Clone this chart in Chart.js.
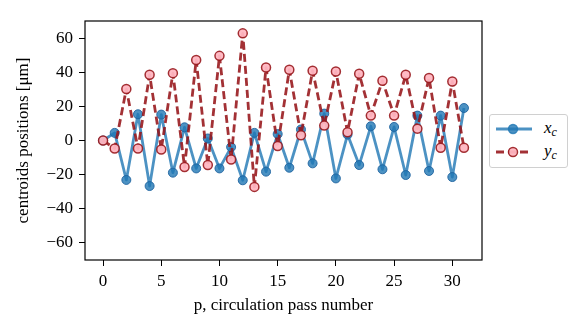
<!DOCTYPE html>
<html>
<head>
<meta charset="utf-8">
<script src="https://cdn.jsdelivr.net/npm/chart.js@4"></script>
<style>
  body { margin: 0; background: #fff; }
  #wrap { position: relative; width: 582px; height: 328px; }
  #legend {
    position: absolute; left: 489px; top: 114px; width: 77px; height: 52px;
    border: 1px solid #d0d0d0; border-radius: 3px; background: #fff;
    font-family: "Liberation Serif", serif; font-size: 17px;
  }
  .row { position: absolute; left: 0; width: 77px; height: 20px; }
  .row canvas { position: absolute; left: 5px; top: 0; }
  .row span { position: absolute; left: 54px; top: -1px; font-style: italic; line-height: 20px; }
  .row sub { font-size: 12px; font-style: italic; vertical-align: -3px; }
</style>
</head>
<body>
<div id="wrap">
  <canvas id="chart" width="582" height="328"></canvas>
  <div id="legend">
    <div class="row" style="top:4px"><canvas id="lx" width="40" height="20"></canvas><span>x<sub>c</sub></span></div>
    <div class="row" style="top:27px"><canvas id="ly" width="40" height="20"></canvas><span>y<sub>c</sub></span></div>
  </div>
</div>
<script>
// data
const passes = [0,1,2,3,4,5,6,7,8,9,10,11,12,13,14,15,16,17,18,19,20,21,22,23,24,25,26,27,28,29,30,31];
const xc = [0,4.5,-23.3,15.5,-26.9,15.3,-19,7.8,-16.5,1.2,-16.5,-3.9,-23.5,4.5,-18.4,3.8,
            -16.1,6.5,-13.5,15.9,-22.4,3.5,-14.5,8.4,-17,8,-20.4,14.7,-18,14.7,-21.6,19.2];
const yc = [0,-4.7,30.4,-4.7,38.8,-5.3,39.8,-15.7,47.6,-14.5,50,-11.2,63.3,-27.4,43.1,-3.3,
            41.8,3.1,41.2,8.8,40.8,4.9,39.4,14.7,35.3,14.7,38.8,7,36.9,-4.3,34.9,-4.3];
const xTicks = [0,5,10,15,20,25,30];
const yTicks = [-60,-40,-20,0,20,40,60];

const FONT = "Liberation Serif";
const blue = "rgba(31,119,180,0.8)";
const blueEdge = "rgba(31,100,160,0.9)";
const red = "rgba(150,20,25,0.88)";
const pink = "rgba(255,182,193,0.95)";

function pts(arr) {
  return arr.map((v, i) => ({ x: passes[i], y: v }));
}

function minus(v) {
  return String(v).replace("-", "\u2212");
}

// black frame round the plot area
const frame = {
  id: "frame",
  afterDraw(chart) {
    const a = chart.chartArea, c = chart.ctx;
    c.save();
    c.strokeStyle = "#000";
    c.lineWidth = 1.2;
    c.strokeRect(a.left, a.top, a.right - a.left, a.bottom - a.top);
    c.restore();
  }
};

new Chart(document.getElementById("chart"), {
  type: "line",
  data: {
    datasets: [
      {
        label: "x_c", data: pts(xc), order: 1,
        borderColor: blue, borderWidth: 2.8, borderJoinStyle: "round",
        pointRadius: 4.5, pointBackgroundColor: blue, pointBorderColor: blueEdge, pointBorderWidth: 1,
        tension: 0
      },
      {
        label: "y_c", data: pts(yc), order: 0,
        borderColor: red, borderWidth: 2.8, borderDash: [8, 4], borderJoinStyle: "round",
        pointRadius: 4.5, pointBackgroundColor: pink, pointBorderColor: red, pointBorderWidth: 1.5,
        tension: 0
      }
    ]
  },
  options: {
    responsive: false,
    animation: false,
    layout: { padding: { top: 21, right: 100, left: 0, bottom: 0 } },
    plugins: { legend: { display: false }, tooltip: { enabled: false } },
    scales: {
      x: {
        type: "linear", min: -1.55, max: 32.55,
        afterBuildTicks(s) { s.ticks = xTicks.map(v => ({ value: v })); },
        afterFit(s) { s.height = 68; },
        grid: { drawOnChartArea: false, drawTicks: true, tickLength: 6, color: "#000" },
        border: { display: false },
        ticks: { color: "#000", font: { family: FONT, size: 17 }, padding: 5, maxRotation: 0 },
        title: { display: true, text: "p, circulation pass number", color: "#000",
                 font: { family: FONT, size: 17 }, padding: { top: 0, bottom: 12 } }
      },
      y: {
        min: -70.6, max: 70.6,
        afterBuildTicks(s) { s.ticks = yTicks.map(v => ({ value: v })); },
        afterFit(s) { s.width = 85; },
        grid: { drawOnChartArea: false, drawTicks: true, tickLength: 6, color: "#000" },
        border: { display: false },
        ticks: { color: "#000", font: { family: FONT, size: 17 }, padding: 6,
                 callback: v => minus(v) },
        title: { display: true, text: "centroids positions [\u03bcm]", color: "#000",
                 font: { family: FONT, size: 17 }, padding: { top: 13, bottom: 0 } }
      }
    }
  },
  plugins: [frame]
});

// legend handles
function handle(id, color, fill, dash) {
  const c = document.getElementById(id).getContext("2d");
  c.strokeStyle = color; c.lineWidth = 2.8; c.setLineDash(dash);
  c.beginPath(); c.moveTo(1, 10); c.lineTo(37, 10); c.stroke();
  c.setLineDash([]);
  c.beginPath(); c.arc(18, 10, 4.5, 0, Math.PI * 2);
  c.fillStyle = fill; c.fill(); c.lineWidth = 1.5; c.stroke();
}
handle("lx", blue, blue, []);
handle("ly", red, pink, [8, 4]);
</script>
</body>
</html>
